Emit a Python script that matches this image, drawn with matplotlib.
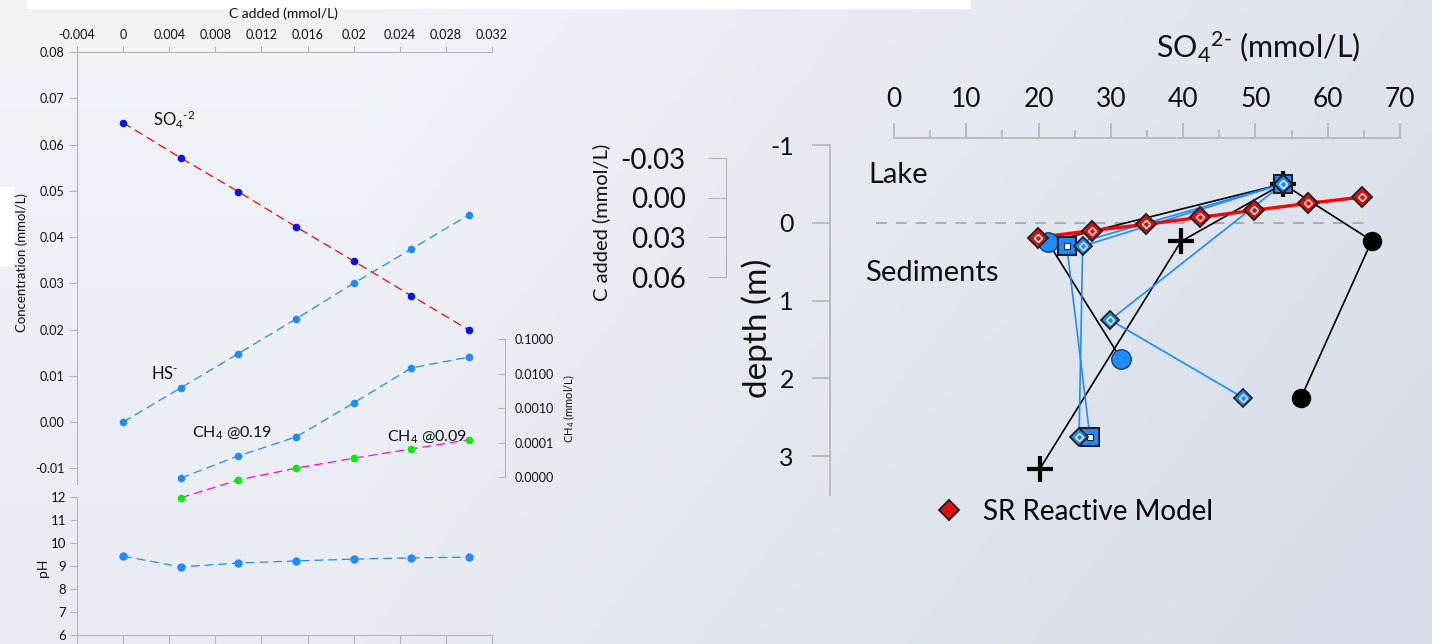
import numpy as np
import matplotlib
matplotlib.use('Agg')
import matplotlib.pyplot as plt
from matplotlib.ticker import MultipleLocator, FormatStrFormatter, NullLocator
from matplotlib.patches import Rectangle

plt.rcParams['font.family'] = ['Lato', 'DejaVu Sans']
plt.rcParams['mathtext.fontset'] = 'custom'
plt.rcParams['mathtext.rm'] = 'Lato'
plt.rcParams['mathtext.default'] = 'regular'
plt.rcParams['axes.unicode_minus'] = False

# ---- left panel: titration with added carbon ----
c_added = [0.0, 0.005, 0.010, 0.015, 0.020, 0.025, 0.030]
so4_conc = [0.0647, 0.0571, 0.0498, 0.0422, 0.0348, 0.0273, 0.0199]
hs_conc = [0.0, 0.0074, 0.0148, 0.0223, 0.0300, 0.0374, 0.0448]
c_added_ch4 = [0.005, 0.010, 0.015, 0.020, 0.025, 0.030]
ch4_at_019 = [0.93e-5, 4.1e-5, 1.45e-4, 1.4e-3, 1.45e-2, 3.0e-2]
ch4_at_009 = [2.5e-6, 8.2e-6, 1.8e-5, 3.5e-5, 6.5e-5, 1.2e-4]
ph_vals = [9.43, 8.96, 9.13, 9.22, 9.30, 9.35, 9.39]
x_ticks = [-0.004, 0, 0.004, 0.008, 0.012, 0.016, 0.02, 0.024, 0.028, 0.032]
x_tick_labels = ['-0.004', '0', '0.004', '0.008', '0.012', '0.016', '0.02', '0.024', '0.028', '0.032']
ch4_ticks = [1e-5, 1e-4, 1e-3, 1e-2, 1e-1]
ph_ticks = [6, 7, 8, 9, 10, 11, 12]

# ---- middle axis ----
c_axis_ticks = [-0.03, 0.0, 0.03, 0.06]

# ---- right panel: SO4 depth profiles ----
depth_ticks = [-1, 0, 1, 2, 3]
model_so4 = [19.9, 27.4, 34.9, 42.3, 49.8, 57.3, 64.7]
model_depth = [0.19, 0.10, 0.02, -0.07, -0.16, -0.25, -0.33]
cross_so4 = [53.8, 39.7, 20.2]
cross_depth = [-0.50, 0.24, 3.16]
blackcirc_so4 = [53.8, 66.1, 56.3]
blackcirc_depth = [-0.50, 0.23, 2.25]
bluecirc_so4 = [53.8, 21.3, 31.4]
bluecirc_depth = [-0.50, 0.25, 1.75]
square_so4 = [53.8, 23.9, 27.1]
square_depth = [-0.50, 0.30, 2.75]
diam1_so4 = [53.8, 26.1, 25.6]
diam1_depth = [-0.50, 0.30, 2.75]
diam2_so4 = [53.8, 29.9, 48.3]
diam2_depth = [-0.50, 1.25, 2.25]

W, H = 1432, 644
GRAY = '#b4b4b4'
BLUE = '#1e8cff'
TXT = '#111111'
HY = '\u2010'  # short hyphen for charges


def box(left, top, right, bottom):
    return [left / W, 1 - bottom / H, (right - left) / W, (bottom - top) / H]


fig = plt.figure(figsize=(W / 100, H / 100), dpi=100)

# background gradient like the slide
bg = fig.add_axes([0, 0, 1, 1], zorder=-10)
gx, gy = np.meshgrid(np.linspace(0, 1, 300), np.linspace(0, 1, 150))
t = np.clip(0.75 * np.clip(gx - 0.25, 0, None) / 0.75 + 0.35 * gy, 0, 1)
light = np.array([0.945, 0.955, 0.968])
dark = np.array([0.845, 0.870, 0.910])
img = light[None, None, :] * (1 - t[..., None]) + dark[None, None, :] * t[..., None]
bg.imshow(img, aspect='auto', extent=[0, 1, 0, 1], origin='upper')
bg.add_patch(Rectangle((27 / W, 1 - 8 / H), (970 - 27) / W, 8 / H, color='white'))
bg.add_patch(Rectangle((0, 1 - 265 / H), 14 / W, 78 / H, color='white'))
bg.set_xlim(0, 1)
bg.set_ylim(0, 1)
bg.axis('off')

# ================= left: concentrations =================
ax = fig.add_axes(box(77, 52, 492, 484))
ax.patch.set_visible(False)
ax.set_xlim(-0.004, 0.032)
ax.set_ylim(-0.0134, 0.08)
ax.spines['right'].set_visible(False)
ax.spines['bottom'].set_visible(False)
for s in ['left', 'top']:
    ax.spines[s].set_color(GRAY)
ax.xaxis.set_ticks_position('top')
ax.set_xticks(x_ticks)
ax.set_xticklabels(x_tick_labels)
ax.set_yticks(np.arange(-0.01, 0.0801, 0.01))
ax.yaxis.set_major_formatter(FormatStrFormatter('%.2f'))
ax.tick_params(axis='x', length=4, color=GRAY, labelsize=9, pad=4, labelcolor=TXT)
ax.tick_params(axis='y', length=6, color=GRAY, labelsize=9, pad=3, labelcolor=TXT)

ax.plot(c_added, so4_conc, color='red', lw=0.9, dashes=(7, 4), zorder=2)
ax.plot(c_added, so4_conc, 'o', color='#0a14e6', ms=4.5, zorder=3, clip_on=False)
ax.plot(c_added, hs_conc, color=BLUE, lw=0.9, dashes=(7, 4), zorder=2)
ax.plot(c_added, hs_conc, 'o', color=BLUE, ms=4.5, zorder=3, clip_on=False)

ax.text(0.0026, 0.0654, 'SO$_4$$^{' + HY + '2}$', fontsize=12, va='center', color=TXT)
ax.text(0.0024, 0.0104, 'HS$^{' + HY + '}$', fontsize=12, va='center', color=TXT)
ax.text(0.0060, -0.0022, 'CH$_4$ @0.19', fontsize=11.5, va='center', color=TXT)
ax.text(0.0229, -0.0032, 'CH$_4$ @0.09', fontsize=11.5, va='center', color=TXT)

# log methane axis sharing the x positions
axl = fig.add_axes(box(77, 52, 492, 484))
axl.patch.set_visible(False)
axl.set_xlim(-0.004, 0.032)
axl.set_yscale('log')
axl.set_ylim(10 ** -5.203, 10 ** 7.32)
for s in ['left', 'top', 'bottom']:
    axl.spines[s].set_visible(False)
axl.spines['right'].set_position(('axes', (505 - 77) / 415))
axl.spines['right'].set_bounds(1e-5, 1e-1)
axl.spines['right'].set_color(GRAY)
axl.set_xticks([])
axl.yaxis.set_ticks_position('right')
axl.set_yticks(ch4_ticks)
axl.yaxis.set_minor_locator(NullLocator())
axl.yaxis.set_major_formatter(FormatStrFormatter('%.4f'))
axl.tick_params(axis='y', direction='in', length=5, color=GRAY, labelsize=9, pad=7, labelcolor=TXT)
axl.plot(c_added_ch4, ch4_at_019, color=BLUE, lw=0.9, dashes=(7, 4), zorder=2, clip_on=False)
axl.plot(c_added_ch4, ch4_at_019, 'o', color=BLUE, ms=4.5, zorder=3, clip_on=False)
axl.plot(c_added_ch4, ch4_at_009, color='#ff00ff', lw=0.9, dashes=(7, 4), zorder=2, clip_on=False)
axl.plot(c_added_ch4, ch4_at_009, 'o', color='#00ee00', ms=4.5, zorder=3, clip_on=False)

fig.text(283 / W, 1 - 14 / H, 'C added (mmol/L)', fontsize=10, ha='center', va='center', color=TXT)
fig.text(22 / W, 1 - 263 / H, 'Concentration (mmol/L)', fontsize=9.5, rotation=90,
         ha='center', va='center', color=TXT)
fig.text(569 / W, 1 - 408 / H, 'CH$_4$ (mmol/L)', fontsize=8, rotation=90,
         ha='center', va='center', color=TXT)

# ================= left: pH =================
axp = fig.add_axes(box(77, 497, 492, 635))
axp.patch.set_visible(False)
axp.set_xlim(-0.004, 0.032)
axp.set_ylim(6, 12)
axp.spines['right'].set_visible(False)
axp.spines['top'].set_visible(False)
for s in ['left', 'bottom']:
    axp.spines[s].set_color(GRAY)
axp.set_xticks(x_ticks)
axp.set_xticklabels([])
axp.set_yticks(ph_ticks)
axp.tick_params(axis='x', length=7, color=GRAY)
axp.tick_params(axis='y', length=5, color=GRAY, labelsize=9.5, pad=3, labelcolor=TXT)
axp.plot(c_added, ph_vals, color=BLUE, lw=0.9, dashes=(7, 4), zorder=2)
axp.plot(c_added, ph_vals, 'o', color=BLUE, ms=5, zorder=3)
fig.text(43 / W, 1 - 568 / H, 'pH', fontsize=10, rotation=90, ha='center', va='center', color=TXT)

# ================= middle: C added axis =================
axc = fig.add_axes(box(726, 158, 740, 277))
axc.patch.set_visible(False)
axc.set_ylim(0.06, -0.03)
for s in ['right', 'top', 'bottom']:
    axc.spines[s].set_visible(False)
axc.spines['left'].set_color(GRAY)
axc.set_xticks([])
axc.set_yticks(c_axis_ticks)
axc.yaxis.set_major_formatter(FormatStrFormatter('%.2f'))
axc.tick_params(axis='y', length=13, color=GRAY, labelsize=20, pad=16, labelcolor=TXT)
fig.text(601 / W, 1 - 222 / H, 'C added (mmol/L)', fontsize=14.5, rotation=90,
         ha='center', va='center', color=TXT)

# ================= right: depth profiles =================
axr = fig.add_axes(box(894, 138, 1400, 495))
axr.patch.set_visible(False)
axr.set_xlim(0, 70)
axr.set_ylim(3.5, -1.09)
axr.spines['right'].set_visible(False)
axr.spines['bottom'].set_visible(False)
axr.spines['left'].set_position(('axes', -64 / 506))
axr.spines['left'].set_bounds(-1, 3.5)
axr.spines['top'].set_bounds(0, 70)
for s in ['left', 'top']:
    axr.spines[s].set_color(GRAY)
    axr.spines[s].set_linewidth(1.2)
axr.xaxis.set_ticks_position('top')
axr.set_xticks(range(0, 71, 10))
axr.xaxis.set_minor_locator(MultipleLocator(5))
axr.set_yticks(depth_ticks)
axr.tick_params(axis='x', which='major', length=11, width=1.2, color=GRAY, labelsize=19, pad=8, labelcolor=TXT)
axr.tick_params(axis='x', which='minor', length=6, width=1.2, color=GRAY)
axr.tick_params(axis='y', length=13, width=1.2, color=GRAY, labelsize=18, pad=13, labelcolor=TXT)

axr.hlines(0, -2.5, 65.1, colors='#a8a8a8', lw=1.3, linestyles=(0, (6, 5)), clip_on=False, zorder=1)

lw_k = 1.2
axr.plot(cross_so4, cross_depth, color='black', lw=lw_k, zorder=2, clip_on=False)
axr.plot(blackcirc_so4, blackcirc_depth, color='black', lw=lw_k, zorder=2, clip_on=False)
axr.plot(bluecirc_so4, bluecirc_depth, color='black', lw=lw_k, zorder=2, clip_on=False)
axr.plot(square_so4, square_depth, color=BLUE, lw=lw_k, zorder=2, clip_on=False)
axr.plot(diam1_so4, diam1_depth, color=BLUE, lw=lw_k, zorder=2, clip_on=False)
axr.plot(diam2_so4, diam2_depth, color=BLUE, lw=lw_k, zorder=2, clip_on=False)
axr.plot(model_so4, model_depth, color='red', lw=2.4, zorder=2.5, clip_on=False)

# markers
axr.plot(blackcirc_so4[1:], blackcirc_depth[1:], 'o', color='black', ms=13, zorder=4, clip_on=False)
axr.plot(bluecirc_so4[1:], bluecirc_depth[1:], 'o', mfc=BLUE, mec='#1a3f66', mew=1, ms=14, zorder=4, clip_on=False)
axr.plot(cross_so4, cross_depth, '+', color='black', ms=19, mew=3, zorder=4.5, clip_on=False)
axr.plot(square_so4, square_depth, 's', mfc=BLUE, mec='#222222', mew=1.5, ms=12.5, zorder=5, clip_on=False)
axr.plot(square_so4, square_depth, 's', mfc='white', mec='#222222', mew=0.8, ms=5, zorder=5.1, clip_on=False)
for xs, ds in [(diam1_so4, diam1_depth), (diam2_so4, diam2_depth)]:
    axr.plot(xs, ds, 'D', mfc=BLUE, mec='#222222', mew=1.3, ms=9, zorder=6, clip_on=False)
    axr.plot(xs, ds, 'D', mfc=BLUE, mec='white', mew=0.9, ms=4.5, zorder=6.1, clip_on=False)
model_pts, = axr.plot(model_so4, model_depth, 'D', mfc='#e01010', mec='#222222', mew=1.4, ms=10,
                      zorder=7, clip_on=False, label='SR Reactive Model')
axr.plot(model_so4, model_depth, 'D', mfc='#e01010', mec='white', mew=1.0, ms=4.5, zorder=7.1, clip_on=False)

fig.text(1258 / W, 1 - 47 / H, 'SO$_4$$^{2' + HY + '}$ (mmol/L)', fontsize=22, ha='center', va='center',
         color=TXT)
fig.text(757 / W, 1 - 328 / H, 'depth (m)', fontsize=24, rotation=90, ha='center', va='center', color=TXT)
fig.text(868 / W, 1 - 175 / H, 'Lake', fontsize=21, ha='left', va='center', color=TXT)
fig.text(865 / W, 1 - 273 / H, 'Sediments', fontsize=21, ha='left', va='center', color=TXT)

fig.legend(handles=[model_pts], loc='center left', bbox_to_anchor=(936 / W, 1 - 512 / H),
           frameon=False, fontsize=20, handlelength=0.9, handletextpad=0.8, borderpad=0,
           borderaxespad=0, numpoints=1)

fig.savefig('out.png', dpi=100)
